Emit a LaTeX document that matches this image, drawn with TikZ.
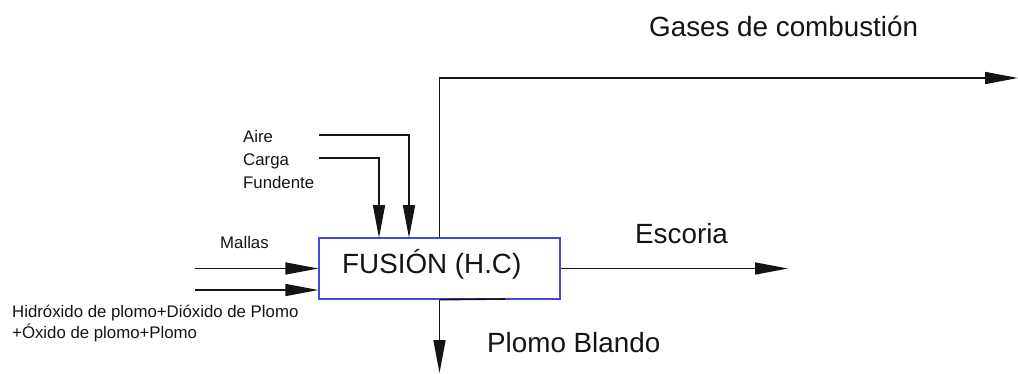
\documentclass[tikz,border=0pt]{standalone}
\usepackage{fontspec}
\setmainfont{Liberation Sans}
\usetikzlibrary{arrows.meta}
\definecolor{boxblue}{RGB}{70,70,225}
\definecolor{ink}{RGB}{20,20,20}
\tikzset{
  flow/.style={draw=ink, line width=1.6pt, -{Triangle[length=33pt,width=12pt]}},
  plain/.style={draw=ink, line width=1.6pt},
  procbox/.style={draw=boxblue, line width=1.3pt, minimum width=241pt, minimum height=61pt, inner sep=0pt},
  bigtxt/.style={font=\fontsize{27.8}{32}\selectfont, inner sep=0pt, anchor=base west, text=ink},
  smalltxt/.style={font=\fontsize{16.8}{21}\selectfont, inner sep=0pt, anchor=base west, text=ink, align=left},
}
\begin{document}
\begin{tikzpicture}[x=1pt,y=-1pt]
\useasboundingbox (0,0) rectangle (1018,373);
% process box
\node[procbox] (box) at (439.5,268.5) {};
\node[bigtxt] (fus) at (342,273) {FUSIÓN (H.C)};
% labels
\node[bigtxt] (gases) at (649,36) {Gases de combustión};
\node[bigtxt] (esc) at (635,243) {Escoria};
\node[bigtxt] (plomo) at (487,352) {Plomo Blando};
\node[smalltxt] (aire) at (243,142.5) {Aire};
\node[smalltxt] (carga) at (243,165.5) {Carga};
\node[smalltxt] (fund) at (243,188.5) {Fundente};
\node[smalltxt] (mallas) at (220,248) {Mallas};
\node[smalltxt] (hidro1) at (12,317) {Hidróxido de plomo+Dióxido de Plomo};
\node[smalltxt] (hidro2) at (12,338) {+Óxido de plomo+Plomo};
% connector end points
\coordinate (aireS) at (319,135);
\coordinate (aireE) at (409,238);
\coordinate (cargaS) at (319,158);
\coordinate (cargaE) at (379,238);
\coordinate (mal1S) at (195,268.5);
\coordinate (mal2S) at (195,290);
\coordinate (gasE) at (1018,78);
\coordinate (escE) at (788,268.5);
\coordinate (plomoE) at (439.5,373);
\coordinate (segE) at (505,299);
% connectors
\draw[flow] (aireS) -| (aireE);
\draw[flow] (cargaS) -| (cargaE);
\draw[flow] (mal1S) -- (mal1S -| box.west);
\draw[flow] (mal2S) -- (mal2S -| box.west);
\draw[flow] (box.north) |- (gasE);
\draw[flow] (box.east) -- (escE);
\draw[flow] (box.south) -- (plomoE);
\draw[plain] (box.south) -- (segE);
\end{tikzpicture}
\end{document}
